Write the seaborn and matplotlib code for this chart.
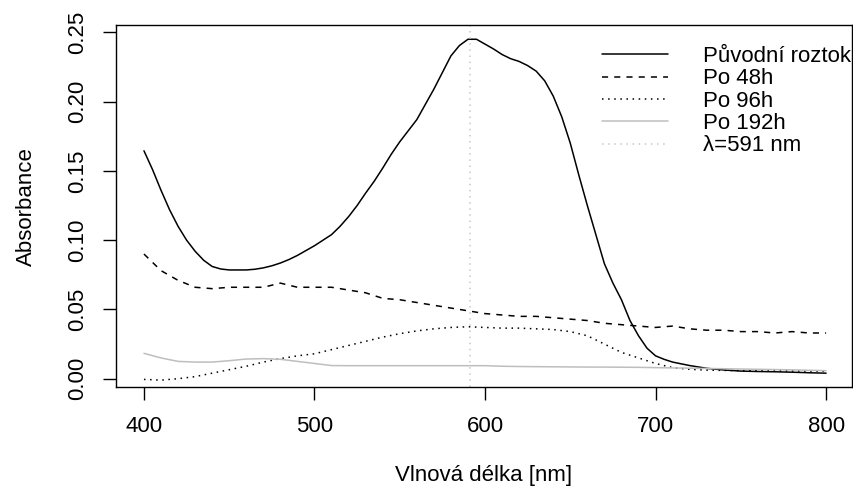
import numpy as np
import pandas as pd
import matplotlib
matplotlib.use("Agg")
import matplotlib.pyplot as plt
import seaborn as sns

# Wavelength grid [nm] and absorbance
wavelength = list(range(400, 801, 10))

# the original solution has a finer grid (steep peak)
wavelength_puvodni = list(range(400, 711, 5)) + list(range(720, 801, 10))
puvodni = [0.1645, 0.151, 0.136, 0.122, 0.110, 0.100, 0.092, 0.0855, 0.081, 0.0792,
           0.0785, 0.0785, 0.0785, 0.079, 0.080, 0.0815, 0.0835, 0.086, 0.089, 0.0925,
           0.096, 0.100, 0.104, 0.110, 0.117, 0.125, 0.134, 0.1425, 0.152, 0.162,
           0.171, 0.179, 0.187, 0.198, 0.209, 0.221, 0.233, 0.2405, 0.245, 0.245,
           0.2415, 0.238, 0.234, 0.231, 0.229, 0.226, 0.222, 0.215, 0.204, 0.189,
           0.170, 0.147, 0.125, 0.104, 0.083, 0.069, 0.057, 0.042, 0.031, 0.022,
           0.0165, 0.014, 0.012,
           0.0095, 0.0075, 0.0063, 0.0055, 0.0052, 0.0050, 0.0047, 0.0043, 0.0040]

po48 = [0.090, 0.078, 0.071, 0.066, 0.065, 0.066, 0.066, 0.066, 0.069, 0.066,
        0.066, 0.066, 0.064, 0.062, 0.058, 0.057, 0.055, 0.053, 0.051, 0.049,
        0.047, 0.046, 0.045, 0.045, 0.044, 0.043, 0.042, 0.040, 0.039, 0.038,
        0.037, 0.038, 0.036, 0.035, 0.035, 0.034, 0.034, 0.033, 0.034, 0.033,
        0.033]

po96 = [-0.0005, -0.001, 0.000, 0.0015, 0.004, 0.0065, 0.009, 0.012, 0.0145, 0.0165,
        0.018, 0.021, 0.024, 0.027, 0.030, 0.0325, 0.0345, 0.036, 0.037, 0.0375,
        0.037, 0.0365, 0.0365, 0.036, 0.0355, 0.034, 0.031, 0.025, 0.019, 0.015,
        0.011, 0.008, 0.0068, 0.0062, 0.0060, 0.0058, 0.0057, 0.0056, 0.0056, 0.0055,
        0.0055]

po192 = [0.0183, 0.015, 0.0125, 0.012, 0.012, 0.013, 0.0142, 0.0145, 0.014, 0.0125,
         0.011, 0.0095, 0.0094, 0.0094, 0.0094, 0.0094, 0.0094, 0.0094, 0.0094, 0.0094,
         0.0094, 0.0090, 0.0088, 0.0087, 0.0086, 0.0085, 0.0084, 0.0084, 0.0083, 0.0082,
         0.0080, 0.0078, 0.0076, 0.0074, 0.0072, 0.0070, 0.0068, 0.0066, 0.0064, 0.0061,
         0.0058]

labels = ["Původní roztok", "Po 48h", "Po 96h", "Po 192h"]
lambda_max = 591

df = pd.concat([
    pd.DataFrame({"wavelength": wavelength_puvodni, "absorbance": puvodni, "serie": labels[0]}),
    pd.DataFrame({"wavelength": wavelength, "absorbance": po48, "serie": labels[1]}),
    pd.DataFrame({"wavelength": wavelength, "absorbance": po96, "serie": labels[2]}),
    pd.DataFrame({"wavelength": wavelength, "absorbance": po192, "serie": labels[3]}),
])

sns.set_style("ticks")
plt.rcParams["font.family"] = ["Liberation Sans", "DejaVu Sans"]
plt.rcParams["font.size"] = 16
plt.rcParams["text.color"] = "black"
plt.rcParams["axes.labelcolor"] = "black"
plt.rcParams["xtick.color"] = "black"
plt.rcParams["ytick.color"] = "black"

fig = plt.figure(figsize=(8.54, 4.91), dpi=100)
ax = fig.add_axes([116 / 854, 1 - 387.3 / 491, 736 / 854, 362.3 / 491])

styles = {
    "Původní roztok": ("black", "-"),
    "Po 48h": ("black", (0, (4, 4))),
    "Po 96h": ("black", (0, (1, 3))),
    "Po 192h": ("#BEBEBE", "-"),
}

for name in labels:
    color, ls = styles[name]
    sns.lineplot(data=df[df["serie"] == name], x="wavelength", y="absorbance",
                 ax=ax, color=color, linestyle=ls, linewidth=1.1, label=name)

ax.axvline(lambda_max, color="#C8C8C8", linestyle=(0, (1, 3)), linewidth=1.1,
           label="λ=591 nm")

ax.set_xlim(383.6, 815.2)
ax.set_ylim(-0.0062, 0.2553)
ax.set_xticks([400, 500, 600, 700, 800])
ax.set_yticks([0.0, 0.05, 0.10, 0.15, 0.20, 0.25])
ax.set_yticklabels(["0.00", "0.05", "0.10", "0.15", "0.20", "0.25"])

for s in ax.spines.values():
    s.set_color("black")
    s.set_linewidth(1.0)

ax.tick_params(axis="both", length=9.4, width=1.0, color="black",
               labelcolor="black", labelsize=16)
ax.tick_params(axis="x", pad=11.4)
ax.tick_params(axis="y", pad=10.7)
for t in ax.get_yticklabels():
    t.set_rotation(90)
    t.set_va("center")

ax.set_xlabel("Vlnová délka [nm]", fontsize=16, color="black")
ax.set_ylabel("Absorbance", fontsize=16, color="black")
ax.xaxis.set_label_coords(0.5, (387.3 - 476) / 362.3)
ax.yaxis.set_label_coords((26 - 116) / 736, 0.5)
ax.xaxis.label.set_va("center")
ax.yaxis.label.set_va("center")

leg = ax.legend(loc="upper left", bbox_to_anchor=(601.7 / 854, 1 - 46 / 491),
                bbox_transform=fig.transFigure, frameon=False, fontsize=16,
                handlelength=3.0, handletextpad=1.58, labelspacing=0.06,
                borderpad=0, borderaxespad=0)
for t in leg.get_texts():
    t.set_color("black")

fig.savefig("out.png", dpi=100)
